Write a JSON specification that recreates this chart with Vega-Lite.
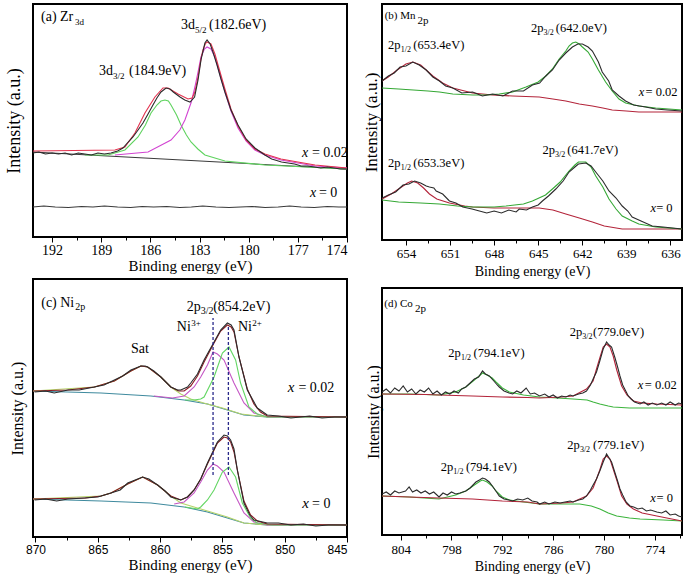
{
"$schema": "https://vega.github.io/schema/vega-lite/v6.json",
"background": "white",
"padding": {"left": 4, "top": 3, "right": 0, "bottom": 0},
"config": {
  "view": {"stroke": "#000", "strokeWidth": 2},
  "font": "Liberation Serif",
  "axis": {"grid": false, "domain": false, "labelFont": "Liberation Serif", "titleFont": "Liberation Serif", "titleFontWeight": "normal", "labelColor": "#000", "titleColor": "#000", "tickColor": "#000", "tickWidth": 1}
},
"resolve": {"scale": {"color": "independent"}},
"datasets": {
"a": [
{"s":"bg","x":193.16,"y":85},{"s":"bg","x":174,"y":68},
{"s":"raw0","x":193.16,"y":30},{"s":"raw0","x":192.5,"y":31},{"s":"raw0","x":191.8,"y":30},{"s":"raw0","x":191,"y":29.5},{"s":"raw0","x":190.2,"y":30.5},{"s":"raw0","x":189.5,"y":30},{"s":"raw0","x":188.8,"y":31},{"s":"raw0","x":188,"y":30},{"s":"raw0","x":187.2,"y":29.5},{"s":"raw0","x":186.5,"y":30.5},{"s":"raw0","x":185.8,"y":30},{"s":"raw0","x":185,"y":30.5},{"s":"raw0","x":184.2,"y":29.5},{"s":"raw0","x":183.5,"y":30},{"s":"raw0","x":182.8,"y":31},{"s":"raw0","x":182,"y":30},{"s":"raw0","x":181.2,"y":29.5},{"s":"raw0","x":180.5,"y":30},{"s":"raw0","x":179.8,"y":30.5},{"s":"raw0","x":179,"y":29.5},{"s":"raw0","x":178.2,"y":30},{"s":"raw0","x":177.5,"y":31},{"s":"raw0","x":176.8,"y":30},{"s":"raw0","x":176,"y":29.5},{"s":"raw0","x":175.2,"y":30.5},{"s":"raw0","x":174.5,"y":30},{"s":"raw0","x":174,"y":30},
{"s":"c1","x":190.0,"y":82},{"s":"c1","x":188.58,"y":82},{"s":"c1","x":187.55,"y":87},{"s":"c1","x":186.75,"y":100},{"s":"c1","x":186.3,"y":112},{"s":"c1","x":185.96,"y":124},{"s":"c1","x":185.6,"y":132},{"s":"c1","x":185.35,"y":136},{"s":"c1","x":185.11,"y":137},{"s":"c1","x":184.9,"y":136},{"s":"c1","x":184.74,"y":132},{"s":"c1","x":184.4,"y":122},{"s":"c1","x":184.13,"y":112},{"s":"c1","x":183.8,"y":102},{"s":"c1","x":183.52,"y":95},{"s":"c1","x":183.1,"y":88},{"s":"c1","x":182.67,"y":82},{"s":"c1","x":181.45,"y":76},{"s":"c1","x":179.01,"y":72},{"s":"c1","x":174,"y":68},
{"s":"c2","x":188.16,"y":82},{"s":"c2","x":186.14,"y":85},{"s":"c2","x":184.74,"y":97},{"s":"c2","x":184.2,"y":107},{"s":"c2","x":183.89,"y":117},{"s":"c2","x":183.5,"y":135},{"s":"c2","x":183.28,"y":150},{"s":"c2","x":183.09,"y":165},{"s":"c2","x":182.91,"y":180},{"s":"c2","x":182.7,"y":188},{"s":"c2","x":182.54,"y":190},{"s":"c2","x":182.3,"y":188},{"s":"c2","x":182.06,"y":180},{"s":"c2","x":181.8,"y":165},{"s":"c2","x":181.45,"y":145},{"s":"c2","x":181.08,"y":126},{"s":"c2","x":180.65,"y":109},{"s":"c2","x":180.16,"y":96},{"s":"c2","x":179.62,"y":87},{"s":"c2","x":179.01,"y":82},{"s":"c2","x":178.03,"y":77},{"s":"c2","x":177,"y":74},{"s":"c2","x":175.95,"y":71},{"s":"c2","x":174,"y":69},
{"s":"fit","x":193.16,"y":86},{"s":"fit","x":188.16,"y":87},{"s":"fit","x":187.55,"y":90},{"s":"fit","x":186.94,"y":104},{"s":"fit","x":186.33,"y":124},{"s":"fit","x":185.72,"y":140},{"s":"fit","x":185.23,"y":149},{"s":"fit","x":184.92,"y":149},{"s":"fit","x":184.31,"y":143},{"s":"fit","x":183.7,"y":138},{"s":"fit","x":183.45,"y":139},{"s":"fit","x":183.28,"y":145},{"s":"fit","x":183.09,"y":160},{"s":"fit","x":182.91,"y":178},{"s":"fit","x":182.79,"y":187},{"s":"fit","x":182.65,"y":193},{"s":"fit","x":182.54,"y":195},{"s":"fit","x":182.3,"y":193},{"s":"fit","x":182.06,"y":183},{"s":"fit","x":181.8,"y":168},{"s":"fit","x":181.45,"y":148},{"s":"fit","x":181.08,"y":128},{"s":"fit","x":180.65,"y":111},{"s":"fit","x":180.16,"y":97},{"s":"fit","x":179.62,"y":88},{"s":"fit","x":179.01,"y":83},{"s":"fit","x":178.03,"y":78},{"s":"fit","x":177,"y":75},{"s":"fit","x":175.95,"y":72},{"s":"fit","x":174,"y":69},
{"s":"raw","x":193.16,"y":84},{"s":"raw","x":192.8,"y":85},{"s":"raw","x":192.4,"y":83},{"s":"raw","x":192.0,"y":84},{"s":"raw","x":191.6,"y":83},{"s":"raw","x":191.2,"y":84},{"s":"raw","x":190.8,"y":82},{"s":"raw","x":190.4,"y":84},{"s":"raw","x":190.0,"y":83},{"s":"raw","x":189.6,"y":82},{"s":"raw","x":189.2,"y":84},{"s":"raw","x":188.8,"y":83},{"s":"raw","x":188.4,"y":84},{"s":"raw","x":188.0,"y":86},{"s":"raw","x":187.67,"y":89},{"s":"raw","x":187.35,"y":95},{"s":"raw","x":187.06,"y":100},{"s":"raw","x":186.75,"y":107},{"s":"raw","x":186.45,"y":114},{"s":"raw","x":186.14,"y":123},{"s":"raw","x":185.84,"y":132},{"s":"raw","x":185.6,"y":139},{"s":"raw","x":185.35,"y":145},{"s":"raw","x":185.04,"y":149},{"s":"raw","x":184.8,"y":148},{"s":"raw","x":184.6,"y":145},{"s":"raw","x":184.19,"y":140},{"s":"raw","x":183.9,"y":137},{"s":"raw","x":183.58,"y":135},{"s":"raw","x":183.3,"y":140},{"s":"raw","x":183.09,"y":157},{"s":"raw","x":182.9,"y":178},{"s":"raw","x":182.67,"y":194},{"s":"raw","x":182.54,"y":197},{"s":"raw","x":182.35,"y":193},{"s":"raw","x":182.18,"y":185},{"s":"raw","x":181.93,"y":172},{"s":"raw","x":181.69,"y":158},{"s":"raw","x":181.45,"y":145},{"s":"raw","x":181.08,"y":127},{"s":"raw","x":180.65,"y":112},{"s":"raw","x":180.16,"y":98},{"s":"raw","x":179.62,"y":89},{"s":"raw","x":179.01,"y":82},{"s":"raw","x":178.6,"y":78},{"s":"raw","x":178.39,"y":77},{"s":"raw","x":178.0,"y":75},{"s":"raw","x":177.6,"y":74},{"s":"raw","x":177.2,"y":73},{"s":"raw","x":176.8,"y":71},{"s":"raw","x":176.4,"y":71},{"s":"raw","x":176.0,"y":70},{"s":"raw","x":175.6,"y":69},{"s":"raw","x":175.2,"y":70},{"s":"raw","x":174.8,"y":69},{"s":"raw","x":174.4,"y":68},{"s":"raw","x":174,"y":68}
],
"aT": [
{"x":192.67,"y":216,"t":"(a) Zr","r":"m"},{"x":190.6,"y":216,"t":"3d","r":"s"},
{"x":184.13,"y":208,"t":"3d","r":"m"},{"x":183.28,"y":208,"t":"5/2","r":"s"},{"x":182.42,"y":208,"t":"(182.6eV)","r":"m"},
{"x":189.13,"y":162,"t":"3d","r":"m"},{"x":188.28,"y":162,"t":"3/2","r":"s"},{"x":187.3,"y":162,"t":"(184.9eV)","r":"m"},
{"x":176.75,"y":80,"t":"x","r":"i"},{"x":176.14,"y":80,"t":"= 0.02","r":"m"},
{"x":176.26,"y":40,"t":"x","r":"i"},{"x":175.71,"y":40,"t":"= 0","r":"m"}
],
"b": [
{"g":"u","s":"red","x":655.63,"y":159},{"g":"u","s":"red","x":655.2,"y":163},{"g":"u","s":"red","x":654.6,"y":170},{"g":"u","s":"red","x":654.0,"y":176},{"g":"u","s":"red","x":653.53,"y":178},{"g":"u","s":"red","x":653.0,"y":175},{"g":"u","s":"red","x":652.17,"y":164},{"g":"u","s":"red","x":651.5,"y":157},{"g":"u","s":"red","x":650.81,"y":152},{"g":"u","s":"red","x":650.0,"y":149},{"g":"u","s":"red","x":649.46,"y":147},{"g":"u","s":"red","x":648.1,"y":145},{"g":"u","s":"red","x":646.74,"y":144},{"g":"u","s":"red","x":644.93,"y":143},{"g":"u","s":"red","x":644.0,"y":141},{"g":"u","s":"red","x":643.12,"y":139},{"g":"u","s":"red","x":642.2,"y":136},{"g":"u","s":"red","x":641.31,"y":134},{"g":"u","s":"red","x":640.6,"y":132},{"g":"u","s":"red","x":639.96,"y":130},{"g":"u","s":"red","x":639.0,"y":129},{"g":"u","s":"red","x":638.15,"y":128},{"g":"u","s":"red","x":635.21,"y":128},
{"g":"u","s":"green","x":655.63,"y":152},{"g":"u","s":"green","x":654.5,"y":151},{"g":"u","s":"green","x":653.5,"y":150},{"g":"u","s":"green","x":652.5,"y":149},{"g":"u","s":"green","x":651.72,"y":148},{"g":"u","s":"green","x":650.81,"y":146},{"g":"u","s":"green","x":649.46,"y":145},{"g":"u","s":"green","x":648.5,"y":145},{"g":"u","s":"green","x":647.65,"y":146},{"g":"u","s":"green","x":646.74,"y":148},{"g":"u","s":"green","x":645.83,"y":153},{"g":"u","s":"green","x":645.0,"y":158},{"g":"u","s":"green","x":644.48,"y":164},{"g":"u","s":"green","x":644.03,"y":171},{"g":"u","s":"green","x":643.57,"y":181},{"g":"u","s":"green","x":643.12,"y":189},{"g":"u","s":"green","x":642.9,"y":194},{"g":"u","s":"green","x":642.67,"y":197},{"g":"u","s":"green","x":642.44,"y":198},{"g":"u","s":"green","x":642.2,"y":196},{"g":"u","s":"green","x":641.99,"y":193},{"g":"u","s":"green","x":641.6,"y":188},{"g":"u","s":"green","x":641.31,"y":181},{"g":"u","s":"green","x":640.9,"y":170},{"g":"u","s":"green","x":640.41,"y":158},{"g":"u","s":"green","x":639.96,"y":149},{"g":"u","s":"green","x":639.5,"y":141},{"g":"u","s":"green","x":639.05,"y":137},{"g":"u","s":"green","x":638.15,"y":134},{"g":"u","s":"green","x":637.0,"y":132},{"g":"u","s":"green","x":635.21,"y":130},
{"g":"u","s":"raw","x":655.63,"y":159},{"g":"u","s":"raw","x":655.2,"y":164},{"g":"u","s":"raw","x":654.8,"y":167},{"g":"u","s":"raw","x":654.4,"y":173},{"g":"u","s":"raw","x":654.0,"y":174},{"g":"u","s":"raw","x":653.53,"y":178},{"g":"u","s":"raw","x":653.1,"y":175},{"g":"u","s":"raw","x":652.62,"y":170},{"g":"u","s":"raw","x":652.17,"y":163},{"g":"u","s":"raw","x":651.72,"y":159},{"g":"u","s":"raw","x":651.3,"y":154},{"g":"u","s":"raw","x":650.81,"y":152},{"g":"u","s":"raw","x":650.2,"y":147},{"g":"u","s":"raw","x":649.46,"y":148},{"g":"u","s":"raw","x":648.8,"y":144},{"g":"u","s":"raw","x":648.1,"y":146},{"g":"u","s":"raw","x":647.4,"y":144},{"g":"u","s":"raw","x":646.74,"y":149},{"g":"u","s":"raw","x":646.0,"y":149},{"g":"u","s":"raw","x":645.39,"y":155},{"g":"u","s":"raw","x":644.9,"y":157},{"g":"u","s":"raw","x":644.48,"y":164},{"g":"u","s":"raw","x":644.03,"y":170},{"g":"u","s":"raw","x":643.57,"y":180},{"g":"u","s":"raw","x":643.12,"y":187},{"g":"u","s":"raw","x":642.67,"y":193},{"g":"u","s":"raw","x":642.3,"y":196},{"g":"u","s":"raw","x":641.99,"y":196},{"g":"u","s":"raw","x":641.6,"y":193},{"g":"u","s":"raw","x":641.31,"y":189},{"g":"u","s":"raw","x":640.9,"y":178},{"g":"u","s":"raw","x":640.64,"y":168},{"g":"u","s":"raw","x":640.2,"y":159},{"g":"u","s":"raw","x":639.96,"y":150},{"g":"u","s":"raw","x":639.5,"y":144},{"g":"u","s":"raw","x":639.05,"y":139},{"g":"u","s":"raw","x":638.5,"y":135},{"g":"u","s":"raw","x":637.69,"y":133},{"g":"u","s":"raw","x":637.0,"y":131},{"g":"u","s":"raw","x":636.2,"y":130},{"g":"u","s":"raw","x":635.21,"y":129},
{"g":"l","s":"red","x":655.63,"y":41},{"g":"l","s":"red","x":655.0,"y":46},{"g":"l","s":"red","x":654.4,"y":52},{"g":"l","s":"red","x":653.9,"y":57},{"g":"l","s":"red","x":653.61,"y":59},{"g":"l","s":"red","x":653.2,"y":57},{"g":"l","s":"red","x":652.8,"y":52},{"g":"l","s":"red","x":652.4,"y":46},{"g":"l","s":"red","x":651.9,"y":41},{"g":"l","s":"red","x":651.04,"y":37},{"g":"l","s":"red","x":650.0,"y":34},{"g":"l","s":"red","x":649.46,"y":33},{"g":"l","s":"red","x":648.0,"y":32},{"g":"l","s":"red","x":646.5,"y":32},{"g":"l","s":"red","x":644.93,"y":32},{"g":"l","s":"red","x":644.0,"y":30},{"g":"l","s":"red","x":643.12,"y":26},{"g":"l","s":"red","x":642.2,"y":22},{"g":"l","s":"red","x":641.31,"y":18},{"g":"l","s":"red","x":640.5,"y":14},{"g":"l","s":"red","x":639.28,"y":11},{"g":"l","s":"red","x":635.21,"y":11},
{"g":"l","s":"green","x":655.63,"y":40},{"g":"l","s":"green","x":654.5,"y":38},{"g":"l","s":"green","x":653.0,"y":37},{"g":"l","s":"green","x":651.72,"y":36},{"g":"l","s":"green","x":650.5,"y":34},{"g":"l","s":"green","x":649.46,"y":33},{"g":"l","s":"green","x":648.0,"y":33},{"g":"l","s":"green","x":647.19,"y":34},{"g":"l","s":"green","x":646.0,"y":36},{"g":"l","s":"green","x":645.39,"y":39},{"g":"l","s":"green","x":644.5,"y":45},{"g":"l","s":"green","x":644.03,"y":51},{"g":"l","s":"green","x":643.5,"y":58},{"g":"l","s":"green","x":642.9,"y":69},{"g":"l","s":"green","x":642.5,"y":75},{"g":"l","s":"green","x":642.26,"y":78},{"g":"l","s":"green","x":641.76,"y":78},{"g":"l","s":"green","x":641.4,"y":73},{"g":"l","s":"green","x":641.08,"y":64},{"g":"l","s":"green","x":640.6,"y":53},{"g":"l","s":"green","x":640.18,"y":41},{"g":"l","s":"green","x":639.7,"y":31},{"g":"l","s":"green","x":639.28,"y":24},{"g":"l","s":"green","x":638.6,"y":19},{"g":"l","s":"green","x":638.15,"y":16},{"g":"l","s":"green","x":637.0,"y":13},{"g":"l","s":"green","x":635.21,"y":11},
{"g":"l","s":"raw","x":655.63,"y":42},{"g":"l","s":"raw","x":655.2,"y":45},{"g":"l","s":"raw","x":654.7,"y":48},{"g":"l","s":"raw","x":654.2,"y":55},{"g":"l","s":"raw","x":653.8,"y":56},{"g":"l","s":"raw","x":653.41,"y":59},{"g":"l","s":"raw","x":653.0,"y":57},{"g":"l","s":"raw","x":652.62,"y":54},{"g":"l","s":"raw","x":652.4,"y":53},{"g":"l","s":"raw","x":652.1,"y":52},{"g":"l","s":"raw","x":651.94,"y":49},{"g":"l","s":"raw","x":651.5,"y":46},{"g":"l","s":"raw","x":651.04,"y":39},{"g":"l","s":"raw","x":650.6,"y":37},{"g":"l","s":"raw","x":650.13,"y":33},{"g":"l","s":"raw","x":649.5,"y":31},{"g":"l","s":"raw","x":649.0,"y":29},{"g":"l","s":"raw","x":648.5,"y":27},{"g":"l","s":"raw","x":648.0,"y":29},{"g":"l","s":"raw","x":647.5,"y":27},{"g":"l","s":"raw","x":647.0,"y":30},{"g":"l","s":"raw","x":646.5,"y":28},{"g":"l","s":"raw","x":646.29,"y":31},{"g":"l","s":"raw","x":645.8,"y":30},{"g":"l","s":"raw","x":645.39,"y":33},{"g":"l","s":"raw","x":645.0,"y":35},{"g":"l","s":"raw","x":644.71,"y":39},{"g":"l","s":"raw","x":644.3,"y":44},{"g":"l","s":"raw","x":643.8,"y":51},{"g":"l","s":"raw","x":643.3,"y":59},{"g":"l","s":"raw","x":642.9,"y":68},{"g":"l","s":"raw","x":642.5,"y":73},{"g":"l","s":"raw","x":642.26,"y":76},{"g":"l","s":"raw","x":641.76,"y":77},{"g":"l","s":"raw","x":641.4,"y":74},{"g":"l","s":"raw","x":641.08,"y":68},{"g":"l","s":"raw","x":640.6,"y":59},{"g":"l","s":"raw","x":640.18,"y":49},{"g":"l","s":"raw","x":639.7,"y":42},{"g":"l","s":"raw","x":639.28,"y":34},{"g":"l","s":"raw","x":638.9,"y":29},{"g":"l","s":"raw","x":638.6,"y":23},{"g":"l","s":"raw","x":638.0,"y":19},{"g":"l","s":"raw","x":637.24,"y":14},{"g":"l","s":"raw","x":636.5,"y":13},{"g":"l","s":"raw","x":635.21,"y":11}
],
"bT": [
{"x":655.45,"y":221,"t":"(b) Mn","r":"h"},{"x":653.22,"y":221,"t":"2p","r":"q"},
{"x":655.22,"y":191,"t":"2p","r":"m"},{"x":654.36,"y":191,"t":"1/2","r":"s"},{"x":653.5,"y":191,"t":"(653.4eV)","r":"m"},
{"x":645.49,"y":208,"t":"2p","r":"m"},{"x":644.63,"y":208,"t":"3/2","r":"s"},{"x":643.8,"y":208,"t":"(642.0eV)","r":"m"},
{"x":638.15,"y":144,"t":"x","r":"i"},{"x":637.69,"y":144,"t":"= 0.02","r":"m"},
{"x":655.22,"y":73,"t":"2p","r":"m"},{"x":654.36,"y":73,"t":"1/2","r":"s"},{"x":653.5,"y":73,"t":"(653.3eV)","r":"m"},
{"x":644.71,"y":86,"t":"2p","r":"m"},{"x":643.85,"y":86,"t":"3/2","r":"s"},{"x":643.02,"y":86,"t":"(641.7eV)","r":"m"},
{"x":637.35,"y":28,"t":"x","r":"i"},{"x":636.97,"y":28,"t":"= 0","r":"m"}
],
"c": [
{"g":"u","s":"bg","x":870.2,"y":146},{"g":"u","s":"bg","x":864.74,"y":144},{"g":"u","s":"bg","x":860.74,"y":141},{"g":"u","s":"bg","x":858.07,"y":137},{"g":"u","s":"bg","x":856.2,"y":133},{"g":"u","s":"bg","x":854.6,"y":127},{"g":"u","s":"bg","x":853.27,"y":122},{"g":"u","s":"bg","x":851.4,"y":120},{"g":"u","s":"bg","x":845,"y":120},
{"g":"u","s":"sat","x":870.2,"y":146},{"g":"u","s":"sat","x":865.27,"y":150},{"g":"u","s":"sat","x":863.67,"y":156},{"g":"u","s":"sat","x":862.34,"y":166},{"g":"u","s":"sat","x":861.54,"y":171},{"g":"u","s":"sat","x":861.0,"y":170},{"g":"u","s":"sat","x":859.94,"y":160},{"g":"u","s":"sat","x":859.14,"y":150},{"g":"u","s":"sat","x":858.34,"y":143},{"g":"u","s":"sat","x":857.54,"y":138},{"g":"u","s":"sat","x":856.5,"y":134},{"g":"u","s":"sat","x":855.0,"y":129},{"g":"u","s":"sat","x":853.5,"y":123},{"g":"u","s":"sat","x":851.4,"y":120},{"g":"u","s":"sat","x":845,"y":120},
{"g":"u","s":"ni3","x":860.5,"y":141},{"g":"u","s":"ni3","x":859,"y":139},{"g":"u","s":"ni3","x":858.07,"y":141},{"g":"u","s":"ni3","x":857.27,"y":150},{"g":"u","s":"ni3","x":856.74,"y":160},{"g":"u","s":"ni3","x":856.2,"y":172},{"g":"u","s":"ni3","x":855.75,"y":185},{"g":"u","s":"ni3","x":855.4,"y":183},{"g":"u","s":"ni3","x":854.87,"y":177},{"g":"u","s":"ni3","x":854.07,"y":154},{"g":"u","s":"ni3","x":853.27,"y":134},{"g":"u","s":"ni3","x":852.47,"y":124},{"g":"u","s":"ni3","x":851.4,"y":120},{"g":"u","s":"ni3","x":845,"y":120},
{"g":"u","s":"ni2","x":858,"y":137},{"g":"u","s":"ni2","x":857.27,"y":137},{"g":"u","s":"ni2","x":856.74,"y":138},{"g":"u","s":"ni2","x":856.47,"y":140},{"g":"u","s":"ni2","x":855.67,"y":160},{"g":"u","s":"ni2","x":855.0,"y":184},{"g":"u","s":"ni2","x":854.47,"y":190},{"g":"u","s":"ni2","x":853.94,"y":177},{"g":"u","s":"ni2","x":853.54,"y":154},{"g":"u","s":"ni2","x":852.87,"y":130},{"g":"u","s":"ni2","x":852.2,"y":123},{"g":"u","s":"ni2","x":851.4,"y":120},{"g":"u","s":"ni2","x":845,"y":120},
{"g":"u","s":"fit","x":870.2,"y":146},{"g":"u","s":"fit","x":867.4,"y":147},{"g":"u","s":"fit","x":865.27,"y":150},{"g":"u","s":"fit","x":863.67,"y":156},{"g":"u","s":"fit","x":862.34,"y":166},{"g":"u","s":"fit","x":861.54,"y":171},{"g":"u","s":"fit","x":861.0,"y":170},{"g":"u","s":"fit","x":859.94,"y":160},{"g":"u","s":"fit","x":859.14,"y":150},{"g":"u","s":"fit","x":858.5,"y":146},{"g":"u","s":"fit","x":858.07,"y":146},{"g":"u","s":"fit","x":857.54,"y":151},{"g":"u","s":"fit","x":857.0,"y":161},{"g":"u","s":"fit","x":856.47,"y":175},{"g":"u","s":"fit","x":855.67,"y":194},{"g":"u","s":"fit","x":855.14,"y":206},{"g":"u","s":"fit","x":854.6,"y":212},{"g":"u","s":"fit","x":854.3,"y":210},{"g":"u","s":"fit","x":854.07,"y":205},{"g":"u","s":"fit","x":853.67,"y":180},{"g":"u","s":"fit","x":853.0,"y":148},{"g":"u","s":"fit","x":852.47,"y":133},{"g":"u","s":"fit","x":851.94,"y":125},{"g":"u","s":"fit","x":851.4,"y":121},{"g":"u","s":"fit","x":845,"y":120},
{"g":"u","s":"raw","x":870.07,"y":145},{"g":"u","s":"raw","x":869.2,"y":146},{"g":"u","s":"raw","x":868.5,"y":144},{"g":"u","s":"raw","x":867.4,"y":147},{"g":"u","s":"raw","x":866.5,"y":147},{"g":"u","s":"raw","x":865.27,"y":150},{"g":"u","s":"raw","x":864.5,"y":152},{"g":"u","s":"raw","x":863.67,"y":157},{"g":"u","s":"raw","x":863.0,"y":161},{"g":"u","s":"raw","x":862.34,"y":167},{"g":"u","s":"raw","x":861.54,"y":171},{"g":"u","s":"raw","x":861.2,"y":171},{"g":"u","s":"raw","x":861.0,"y":170},{"g":"u","s":"raw","x":860.5,"y":166},{"g":"u","s":"raw","x":859.94,"y":160},{"g":"u","s":"raw","x":859.14,"y":150},{"g":"u","s":"raw","x":858.6,"y":147},{"g":"u","s":"raw","x":858.34,"y":147},{"g":"u","s":"raw","x":857.8,"y":150},{"g":"u","s":"raw","x":857.54,"y":154},{"g":"u","s":"raw","x":857.0,"y":163},{"g":"u","s":"raw","x":856.47,"y":177},{"g":"u","s":"raw","x":855.67,"y":195},{"g":"u","s":"raw","x":855.14,"y":207},{"g":"u","s":"raw","x":854.6,"y":214},{"g":"u","s":"raw","x":854.3,"y":212},{"g":"u","s":"raw","x":854.07,"y":207},{"g":"u","s":"raw","x":853.67,"y":180},{"g":"u","s":"raw","x":853.0,"y":147},{"g":"u","s":"raw","x":852.2,"y":129},{"g":"u","s":"raw","x":851.4,"y":122},{"g":"u","s":"raw","x":850.5,"y":121},{"g":"u","s":"raw","x":849.5,"y":119},{"g":"u","s":"raw","x":848.74,"y":120},{"g":"u","s":"raw","x":848,"y":121},{"g":"u","s":"raw","x":847,"y":119},{"g":"u","s":"raw","x":846,"y":120},{"g":"u","s":"raw","x":845,"y":120},
{"g":"l","s":"bg","x":870.2,"y":38},{"g":"l","s":"bg","x":864.74,"y":36},{"g":"l","s":"bg","x":860.74,"y":34},{"g":"l","s":"bg","x":858.07,"y":30},{"g":"l","s":"bg","x":856.2,"y":25},{"g":"l","s":"bg","x":854.6,"y":19},{"g":"l","s":"bg","x":853.27,"y":14},{"g":"l","s":"bg","x":851.4,"y":12},{"g":"l","s":"bg","x":845,"y":12},
{"g":"l","s":"sat","x":870.2,"y":38},{"g":"l","s":"sat","x":864.74,"y":41},{"g":"l","s":"sat","x":863.94,"y":44},{"g":"l","s":"sat","x":862.6,"y":53},{"g":"l","s":"sat","x":861.4,"y":60},{"g":"l","s":"sat","x":860.2,"y":52},{"g":"l","s":"sat","x":859.14,"y":41},{"g":"l","s":"sat","x":858.34,"y":34},{"g":"l","s":"sat","x":857.27,"y":30},{"g":"l","s":"sat","x":856.2,"y":26},{"g":"l","s":"sat","x":854.6,"y":20},{"g":"l","s":"sat","x":853.27,"y":14},{"g":"l","s":"sat","x":851.4,"y":12},{"g":"l","s":"sat","x":845,"y":12},
{"g":"l","s":"ni3","x":858.87,"y":33},{"g":"l","s":"ni3","x":858.07,"y":35},{"g":"l","s":"ni3","x":857.27,"y":44},{"g":"l","s":"ni3","x":856.74,"y":55},{"g":"l","s":"ni3","x":856.2,"y":67},{"g":"l","s":"ni3","x":855.75,"y":73},{"g":"l","s":"ni3","x":855.4,"y":71},{"g":"l","s":"ni3","x":854.87,"y":65},{"g":"l","s":"ni3","x":854.07,"y":44},{"g":"l","s":"ni3","x":853.27,"y":24},{"g":"l","s":"ni3","x":852.47,"y":15},{"g":"l","s":"ni3","x":851.4,"y":12},{"g":"l","s":"ni3","x":845,"y":12},
{"g":"l","s":"ni2","x":858,"y":30},{"g":"l","s":"ni2","x":857,"y":28},{"g":"l","s":"ni2","x":856.74,"y":30},{"g":"l","s":"ni2","x":856.2,"y":37},{"g":"l","s":"ni2","x":855.67,"y":47},{"g":"l","s":"ni2","x":855.0,"y":65},{"g":"l","s":"ni2","x":854.47,"y":70},{"g":"l","s":"ni2","x":853.94,"y":60},{"g":"l","s":"ni2","x":853.4,"y":34},{"g":"l","s":"ni2","x":852.74,"y":19},{"g":"l","s":"ni2","x":852.2,"y":14},{"g":"l","s":"ni2","x":851,"y":12},{"g":"l","s":"ni2","x":845,"y":12},
{"g":"l","s":"fit","x":870.2,"y":38},{"g":"l","s":"fit","x":866,"y":39},{"g":"l","s":"fit","x":864.74,"y":41},{"g":"l","s":"fit","x":863.94,"y":44},{"g":"l","s":"fit","x":862.6,"y":53},{"g":"l","s":"fit","x":861.4,"y":60},{"g":"l","s":"fit","x":860.2,"y":52},{"g":"l","s":"fit","x":859.14,"y":41},{"g":"l","s":"fit","x":858.34,"y":37},{"g":"l","s":"fit","x":857.8,"y":40},{"g":"l","s":"fit","x":857.27,"y":47},{"g":"l","s":"fit","x":856.74,"y":58},{"g":"l","s":"fit","x":856.2,"y":73},{"g":"l","s":"fit","x":855.4,"y":94},{"g":"l","s":"fit","x":854.87,"y":100},{"g":"l","s":"fit","x":854.6,"y":99},{"g":"l","s":"fit","x":854.34,"y":95},{"g":"l","s":"fit","x":854.07,"y":85},{"g":"l","s":"fit","x":853.8,"y":67},{"g":"l","s":"fit","x":853.27,"y":36},{"g":"l","s":"fit","x":852.74,"y":22},{"g":"l","s":"fit","x":852.2,"y":16},{"g":"l","s":"fit","x":851.4,"y":13},{"g":"l","s":"fit","x":845,"y":12},
{"g":"l","s":"raw","x":870.07,"y":37},{"g":"l","s":"raw","x":869.2,"y":38},{"g":"l","s":"raw","x":868.3,"y":36},{"g":"l","s":"raw","x":867.4,"y":38},{"g":"l","s":"raw","x":866.07,"y":39},{"g":"l","s":"raw","x":865,"y":40},{"g":"l","s":"raw","x":863.94,"y":44},{"g":"l","s":"raw","x":863.2,"y":47},{"g":"l","s":"raw","x":862.6,"y":54},{"g":"l","s":"raw","x":862,"y":57},{"g":"l","s":"raw","x":861.4,"y":60},{"g":"l","s":"raw","x":860.9,"y":58},{"g":"l","s":"raw","x":860.2,"y":52},{"g":"l","s":"raw","x":859.6,"y":46},{"g":"l","s":"raw","x":859.14,"y":40},{"g":"l","s":"raw","x":858.34,"y":37},{"g":"l","s":"raw","x":857.8,"y":40},{"g":"l","s":"raw","x":857.27,"y":47},{"g":"l","s":"raw","x":856.74,"y":58},{"g":"l","s":"raw","x":856.2,"y":74},{"g":"l","s":"raw","x":855.4,"y":95},{"g":"l","s":"raw","x":854.87,"y":102},{"g":"l","s":"raw","x":854.6,"y":101},{"g":"l","s":"raw","x":854.34,"y":97},{"g":"l","s":"raw","x":854.07,"y":88},{"g":"l","s":"raw","x":853.8,"y":67},{"g":"l","s":"raw","x":853.27,"y":34},{"g":"l","s":"raw","x":852.8,"y":22},{"g":"l","s":"raw","x":852.47,"y":17},{"g":"l","s":"raw","x":851.4,"y":14},{"g":"l","s":"raw","x":850.5,"y":14},{"g":"l","s":"raw","x":849.5,"y":12},{"g":"l","s":"raw","x":848.5,"y":13},{"g":"l","s":"raw","x":847.5,"y":11},{"g":"l","s":"raw","x":846.5,"y":12},{"g":"l","s":"raw","x":845,"y":12}
],
"cR": [{"x":855.75,"y":62,"y2":219},{"x":854.52,"y":62,"y2":212}],
"cT": [
{"x":869.54,"y":230,"t":"(c) Ni","r":"m"},{"x":866.8,"y":230,"t":"2p","r":"s"},
{"x":857.86,"y":226,"t":"2p","r":"m"},{"x":856.74,"y":226,"t":"3/2","r":"s"},{"x":855.74,"y":226,"t":"(854.2eV)","r":"m"},
{"x":858.66,"y":206,"t":"Ni","r":"m"},{"x":857.5,"y":206,"t":"3+","r":"p"},
{"x":853.75,"y":206,"t":"Ni","r":"m"},{"x":852.6,"y":206,"t":"2+","r":"p"},
{"x":862.34,"y":184,"t":"Sat","r":"m"},
{"x":849.75,"y":145,"t":"x","r":"i"},{"x":848.9,"y":145,"t":"= 0.02","r":"m"},
{"x":848.6,"y":29,"t":"x","r":"i"},{"x":847.8,"y":29,"t":"= 0","r":"m"}
],
"d": [
{"g":"u","s":"green","x":806.2,"y":141},{"g":"u","s":"green","x":803,"y":141},{"g":"u","s":"green","x":799.47,"y":140},{"g":"u","s":"green","x":797.5,"y":143},{"g":"u","s":"green","x":796.31,"y":148},{"g":"u","s":"green","x":795.3,"y":155},{"g":"u","s":"green","x":794.6,"y":160},{"g":"u","s":"green","x":794.34,"y":162},{"g":"u","s":"green","x":793.8,"y":160},{"g":"u","s":"green","x":793.2,"y":157},{"g":"u","s":"green","x":792.75,"y":153},{"g":"u","s":"green","x":792.0,"y":147},{"g":"u","s":"green","x":791.17,"y":143},{"g":"u","s":"green","x":789.5,"y":140},{"g":"u","s":"green","x":787.61,"y":138},{"g":"u","s":"green","x":785.5,"y":137},{"g":"u","s":"green","x":783.66,"y":136},{"g":"u","s":"green","x":782.0,"y":135},{"g":"u","s":"green","x":781.29,"y":133},{"g":"u","s":"green","x":780.5,"y":131},{"g":"u","s":"green","x":779.5,"y":129},{"g":"u","s":"green","x":778.92,"y":128},{"g":"u","s":"green","x":777,"y":127},{"g":"u","s":"green","x":770.8,"y":127},
{"g":"u","s":"red","x":806.2,"y":141},{"g":"u","s":"red","x":801,"y":140.5},{"g":"u","s":"red","x":799.47,"y":140},{"g":"u","s":"red","x":795.52,"y":139},{"g":"u","s":"red","x":792,"y":138},{"g":"u","s":"red","x":789,"y":137.5},{"g":"u","s":"red","x":787.61,"y":137},{"g":"u","s":"red","x":785,"y":138},{"g":"u","s":"red","x":783.66,"y":139},{"g":"u","s":"red","x":782.07,"y":146},{"g":"u","s":"red","x":781.29,"y":154},{"g":"u","s":"red","x":780.89,"y":166},{"g":"u","s":"red","x":780.5,"y":177},{"g":"u","s":"red","x":780.1,"y":188},{"g":"u","s":"red","x":779.7,"y":191},{"g":"u","s":"red","x":779.3,"y":188},{"g":"u","s":"red","x":778.92,"y":179},{"g":"u","s":"red","x":778.5,"y":165},{"g":"u","s":"red","x":777.92,"y":149},{"g":"u","s":"red","x":777.3,"y":140},{"g":"u","s":"red","x":776.54,"y":134},{"g":"u","s":"red","x":775.5,"y":132},{"g":"u","s":"red","x":773.77,"y":131},{"g":"u","s":"red","x":770.8,"y":130},
{"g":"u","s":"raw","x":806.2,"y":143},{"g":"u","s":"raw","x":805.7,"y":146},{"g":"u","s":"raw","x":805.2,"y":142},{"g":"u","s":"raw","x":804.7,"y":147},{"g":"u","s":"raw","x":804.2,"y":144},{"g":"u","s":"raw","x":803.7,"y":149},{"g":"u","s":"raw","x":803.2,"y":143},{"g":"u","s":"raw","x":802.7,"y":146},{"g":"u","s":"raw","x":802.2,"y":141},{"g":"u","s":"raw","x":801.7,"y":145},{"g":"u","s":"raw","x":801.2,"y":143},{"g":"u","s":"raw","x":800.7,"y":147},{"g":"u","s":"raw","x":800.2,"y":141},{"g":"u","s":"raw","x":799.7,"y":144},{"g":"u","s":"raw","x":799.2,"y":140},{"g":"u","s":"raw","x":798.7,"y":143},{"g":"u","s":"raw","x":798.2,"y":141},{"g":"u","s":"raw","x":797.7,"y":144},{"g":"u","s":"raw","x":797.2,"y":142},{"g":"u","s":"raw","x":796.8,"y":146},{"g":"u","s":"raw","x":796.31,"y":148},{"g":"u","s":"raw","x":795.8,"y":152},{"g":"u","s":"raw","x":795.3,"y":156},{"g":"u","s":"raw","x":794.8,"y":158},{"g":"u","s":"raw","x":794.34,"y":164},{"g":"u","s":"raw","x":794.0,"y":161},{"g":"u","s":"raw","x":793.54,"y":159},{"g":"u","s":"raw","x":793.0,"y":154},{"g":"u","s":"raw","x":792.6,"y":150},{"g":"u","s":"raw","x":792.36,"y":148},{"g":"u","s":"raw","x":791.8,"y":144},{"g":"u","s":"raw","x":791.2,"y":142},{"g":"u","s":"raw","x":790.78,"y":141},{"g":"u","s":"raw","x":790.3,"y":144},{"g":"u","s":"raw","x":789.8,"y":142},{"g":"u","s":"raw","x":789.19,"y":147},{"g":"u","s":"raw","x":788.7,"y":141},{"g":"u","s":"raw","x":788.2,"y":142},{"g":"u","s":"raw","x":787.61,"y":139},{"g":"u","s":"raw","x":787.0,"y":141},{"g":"u","s":"raw","x":786.5,"y":138},{"g":"u","s":"raw","x":786.0,"y":140},{"g":"u","s":"raw","x":785.5,"y":137},{"g":"u","s":"raw","x":785.0,"y":139},{"g":"u","s":"raw","x":784.5,"y":138},{"g":"u","s":"raw","x":784.0,"y":140},{"g":"u","s":"raw","x":783.66,"y":139},{"g":"u","s":"raw","x":783.0,"y":141},{"g":"u","s":"raw","x":782.5,"y":142},{"g":"u","s":"raw","x":782.07,"y":144},{"g":"u","s":"raw","x":781.6,"y":150},{"g":"u","s":"raw","x":781.29,"y":156},{"g":"u","s":"raw","x":780.89,"y":163},{"g":"u","s":"raw","x":780.5,"y":174},{"g":"u","s":"raw","x":780.1,"y":186},{"g":"u","s":"raw","x":779.7,"y":193},{"g":"u","s":"raw","x":779.4,"y":190},{"g":"u","s":"raw","x":779.11,"y":188},{"g":"u","s":"raw","x":778.7,"y":177},{"g":"u","s":"raw","x":778.4,"y":168},{"g":"u","s":"raw","x":778.12,"y":159},{"g":"u","s":"raw","x":777.8,"y":150},{"g":"u","s":"raw","x":777.5,"y":145},{"g":"u","s":"raw","x":777.14,"y":139},{"g":"u","s":"raw","x":776.8,"y":136},{"g":"u","s":"raw","x":776.4,"y":133},{"g":"u","s":"raw","x":775.75,"y":131},{"g":"u","s":"raw","x":775.3,"y":133},{"g":"u","s":"raw","x":774.8,"y":130},{"g":"u","s":"raw","x":774.3,"y":132},{"g":"u","s":"raw","x":773.77,"y":130},{"g":"u","s":"raw","x":773.2,"y":132},{"g":"u","s":"raw","x":772.7,"y":130},{"g":"u","s":"raw","x":772.2,"y":133},{"g":"u","s":"raw","x":771.6,"y":130},{"g":"u","s":"raw","x":771.2,"y":132},{"g":"u","s":"raw","x":770.8,"y":131},
{"g":"l","s":"green","x":806.2,"y":39},{"g":"l","s":"green","x":803,"y":38},{"g":"l","s":"green","x":799.47,"y":36},{"g":"l","s":"green","x":797.5,"y":40},{"g":"l","s":"green","x":796.31,"y":44},{"g":"l","s":"green","x":795.3,"y":50},{"g":"l","s":"green","x":794.6,"y":54},{"g":"l","s":"green","x":794.34,"y":55},{"g":"l","s":"green","x":793.8,"y":53},{"g":"l","s":"green","x":793.2,"y":49},{"g":"l","s":"green","x":792.75,"y":44},{"g":"l","s":"green","x":792.0,"y":38},{"g":"l","s":"green","x":791.17,"y":35},{"g":"l","s":"green","x":789.5,"y":33},{"g":"l","s":"green","x":787.61,"y":31},{"g":"l","s":"green","x":785,"y":31},{"g":"l","s":"green","x":782.87,"y":31},{"g":"l","s":"green","x":781.5,"y":29},{"g":"l","s":"green","x":780.49,"y":26},{"g":"l","s":"green","x":779.5,"y":22},{"g":"l","s":"green","x":778.51,"y":19},{"g":"l","s":"green","x":777,"y":17},{"g":"l","s":"green","x":775.75,"y":16},{"g":"l","s":"green","x":773,"y":15},{"g":"l","s":"green","x":770.8,"y":14},
{"g":"l","s":"red","x":806.2,"y":39},{"g":"l","s":"red","x":803,"y":38},{"g":"l","s":"red","x":799.47,"y":37},{"g":"l","s":"red","x":795.52,"y":36},{"g":"l","s":"red","x":792,"y":34},{"g":"l","s":"red","x":789,"y":33},{"g":"l","s":"red","x":787.61,"y":31},{"g":"l","s":"red","x":785,"y":32},{"g":"l","s":"red","x":783.66,"y":33},{"g":"l","s":"red","x":782.07,"y":39},{"g":"l","s":"red","x":781.29,"y":47},{"g":"l","s":"red","x":780.89,"y":56},{"g":"l","s":"red","x":780.5,"y":65},{"g":"l","s":"red","x":780.1,"y":76},{"g":"l","s":"red","x":779.7,"y":79},{"g":"l","s":"red","x":779.3,"y":76},{"g":"l","s":"red","x":778.92,"y":66},{"g":"l","s":"red","x":778.5,"y":55},{"g":"l","s":"red","x":777.92,"y":39},{"g":"l","s":"red","x":777.3,"y":31},{"g":"l","s":"red","x":776.54,"y":26},{"g":"l","s":"red","x":775.5,"y":22},{"g":"l","s":"red","x":773.77,"y":19},{"g":"l","s":"red","x":772,"y":16},{"g":"l","s":"red","x":770.8,"y":14},
{"g":"l","s":"raw","x":806.2,"y":41},{"g":"l","s":"raw","x":805.7,"y":43},{"g":"l","s":"raw","x":805.2,"y":40},{"g":"l","s":"raw","x":804.7,"y":44},{"g":"l","s":"raw","x":804.2,"y":42},{"g":"l","s":"raw","x":803.42,"y":44},{"g":"l","s":"raw","x":803.0,"y":48},{"g":"l","s":"raw","x":802.6,"y":43},{"g":"l","s":"raw","x":802.1,"y":45},{"g":"l","s":"raw","x":801.6,"y":42},{"g":"l","s":"raw","x":801.1,"y":44},{"g":"l","s":"raw","x":800.6,"y":41},{"g":"l","s":"raw","x":800.1,"y":43},{"g":"l","s":"raw","x":799.47,"y":38},{"g":"l","s":"raw","x":799.0,"y":42},{"g":"l","s":"raw","x":798.5,"y":40},{"g":"l","s":"raw","x":798.0,"y":43},{"g":"l","s":"raw","x":797.5,"y":41},{"g":"l","s":"raw","x":797.0,"y":42},{"g":"l","s":"raw","x":796.31,"y":44},{"g":"l","s":"raw","x":795.8,"y":47},{"g":"l","s":"raw","x":795.12,"y":53},{"g":"l","s":"raw","x":794.7,"y":55},{"g":"l","s":"raw","x":794.34,"y":57},{"g":"l","s":"raw","x":794.0,"y":56},{"g":"l","s":"raw","x":793.54,"y":53},{"g":"l","s":"raw","x":793.1,"y":48},{"g":"l","s":"raw","x":792.6,"y":42},{"g":"l","s":"raw","x":792.36,"y":39},{"g":"l","s":"raw","x":791.8,"y":36},{"g":"l","s":"raw","x":791.2,"y":35},{"g":"l","s":"raw","x":790.78,"y":34},{"g":"l","s":"raw","x":790.2,"y":36},{"g":"l","s":"raw","x":789.59,"y":35},{"g":"l","s":"raw","x":789.0,"y":37},{"g":"l","s":"raw","x":788.5,"y":34},{"g":"l","s":"raw","x":787.9,"y":33},{"g":"l","s":"raw","x":787.61,"y":31},{"g":"l","s":"raw","x":787.0,"y":33},{"g":"l","s":"raw","x":786.5,"y":31},{"g":"l","s":"raw","x":785.8,"y":33},{"g":"l","s":"raw","x":785.2,"y":32},{"g":"l","s":"raw","x":784.6,"y":33},{"g":"l","s":"raw","x":784.0,"y":34},{"g":"l","s":"raw","x":783.66,"y":33},{"g":"l","s":"raw","x":783.0,"y":35},{"g":"l","s":"raw","x":782.5,"y":36},{"g":"l","s":"raw","x":782.07,"y":39},{"g":"l","s":"raw","x":781.6,"y":45},{"g":"l","s":"raw","x":781.29,"y":50},{"g":"l","s":"raw","x":780.89,"y":56},{"g":"l","s":"raw","x":780.5,"y":64},{"g":"l","s":"raw","x":780.1,"y":73},{"g":"l","s":"raw","x":779.7,"y":81},{"g":"l","s":"raw","x":779.4,"y":77},{"g":"l","s":"raw","x":779.11,"y":73},{"g":"l","s":"raw","x":778.7,"y":62},{"g":"l","s":"raw","x":778.4,"y":54},{"g":"l","s":"raw","x":778.12,"y":46},{"g":"l","s":"raw","x":777.8,"y":40},{"g":"l","s":"raw","x":777.4,"y":33},{"g":"l","s":"raw","x":776.94,"y":29},{"g":"l","s":"raw","x":776.5,"y":28},{"g":"l","s":"raw","x":776.0,"y":26},{"g":"l","s":"raw","x":775.5,"y":27},{"g":"l","s":"raw","x":775.0,"y":24},{"g":"l","s":"raw","x":774.5,"y":25},{"g":"l","s":"raw","x":773.77,"y":23},{"g":"l","s":"raw","x":773.2,"y":22},{"g":"l","s":"raw","x":772.7,"y":24},{"g":"l","s":"raw","x":772.2,"y":20},{"g":"l","s":"raw","x":771.6,"y":21},{"g":"l","s":"raw","x":771.2,"y":19},{"g":"l","s":"raw","x":770.8,"y":18}
],
"dT": [
{"x":805.92,"y":228,"t":"(d) Co","r":"h"},{"x":802.3,"y":228,"t":"2p","r":"q"},
{"x":784.05,"y":199,"t":"2p","r":"m"},{"x":782.57,"y":199,"t":"3/2","r":"s"},{"x":781.3,"y":199,"t":"(779.0eV)","r":"m"},
{"x":798.37,"y":178,"t":"2p","r":"m"},{"x":796.89,"y":178,"t":"1/2","r":"s"},{"x":795.4,"y":178,"t":"(794.1eV)","r":"m"},
{"x":776.02,"y":146,"t":"x","r":"i"},{"x":775.2,"y":146,"t":"= 0.02","r":"m"},
{"x":784.33,"y":86,"t":"2p","r":"m"},{"x":782.85,"y":86,"t":"3/2","r":"s"},{"x":781.3,"y":86,"t":"(779.1eV)","r":"m"},
{"x":799.27,"y":64,"t":"2p","r":"m"},{"x":797.79,"y":64,"t":"1/2","r":"s"},{"x":796.3,"y":64,"t":"(794.1eV)","r":"m"},
{"x":774.56,"y":33,"t":"x","r":"i"},{"x":773.8,"y":33,"t":"= 0","r":"m"}
]
},
"hconcat": [
{"vconcat": [
{
"width": 314, "height": 233,
"encoding": {
  "x": {"field": "x", "type": "quantitative", "scale": {"domain": [174, 193.16], "reverse": true, "nice": false, "zero": false},
    "axis": {"title": "Binding energy (eV)", "values": [192,190.5,189,187.5,186,184.5,183,181.5,180,178.5,177,175.5,174], "labelExpr": "datum.value % 3 === 0 ? datum.label : ''", "tickSize": {"condition": {"test": "datum.value % 3 === 0", "value": 5}, "value": 3}, "labelFontSize": 14, "titleFontSize": 15, "labelPadding": 1, "titlePadding": 1}},
  "y": {"field": "y", "type": "quantitative", "scale": {"domain": [0, 233], "nice": false, "zero": false},
    "axis": {"title": "Intensity (a.u.)", "labels": false, "ticks": false, "domain": false, "titleFontSize": 18, "titlePadding": 10}}
},
"layer": [
  {"data": {"name": "a"}, "mark": {"type": "line", "strokeWidth": 1.1, "clip": true},
   "encoding": {"color": {"field": "s", "type": "nominal", "legend": null, "scale": {"domain": ["bg","raw0","c1","c2","fit","raw"], "range": ["#3a3a3a","#3a3a3a","#5fd35f","#d244d2","#e3324f","#2b2b2b"]}}}},
  {"data": {"name": "aT"}, "transform": [{"filter": "datum.r == 'm'"}], "mark": {"type": "text", "align": "left", "baseline": "alphabetic", "fontSize": 14, "font": "Liberation Serif"}, "encoding": {"text": {"field": "t"}}},
  {"data": {"name": "aT"}, "transform": [{"filter": "datum.r == 's'"}], "mark": {"type": "text", "align": "left", "baseline": "alphabetic", "fontSize": 9, "dy": 4, "font": "Liberation Serif"}, "encoding": {"text": {"field": "t"}}},
  {"data": {"name": "aT"}, "transform": [{"filter": "datum.r == 'i'"}], "mark": {"type": "text", "align": "left", "baseline": "alphabetic", "fontSize": 14, "fontStyle": "italic", "font": "Liberation Serif"}, "encoding": {"text": {"field": "t"}}}
]
},
{
"width": 314, "height": 258,
"encoding": {
  "x": {"field": "x", "type": "quantitative", "scale": {"domain": [845, 870.2], "reverse": true, "nice": false, "zero": false},
    "axis": {"title": "Binding energy (eV)", "values": [870,867.5,865,862.5,860,857.5,855,852.5,850,847.5,845], "labelExpr": "datum.value % 5 === 0 ? datum.label : ''", "tickSize": {"condition": {"test": "datum.value % 5 === 0", "value": 5}, "value": 3}, "labelFont": "Liberation Sans", "labelFontSize": 12, "titleFontSize": 15, "labelPadding": 2, "titlePadding": 2}},
  "y": {"field": "y", "type": "quantitative", "scale": {"domain": [0, 258], "nice": false, "zero": false},
    "axis": {"title": "Intensity (a.u.)", "labels": false, "ticks": false, "domain": false, "titleFontSize": 16, "titlePadding": 8}}
},
"layer": [
  {"data": {"name": "c"}, "mark": {"type": "line", "strokeWidth": 1.1, "clip": true},
   "encoding": {"color": {"field": "s", "type": "nominal", "legend": null, "scale": {"domain": ["bg","sat","ni3","ni2","fit","raw"], "range": ["#3f8a9e","#b5d36a","#c557c5","#63d663","#8a1c24","#2b2b2b"]}}, "detail": {"field": "g"}}},
  {"data": {"name": "cR"}, "mark": {"type": "rule", "color": "#2a2a8a", "strokeDash": [3, 2], "strokeWidth": 1.3}, "encoding": {"y2": {"field": "y2"}}},
  {"data": {"name": "cT"}, "transform": [{"filter": "datum.r == 'm'"}], "mark": {"type": "text", "align": "left", "baseline": "alphabetic", "fontSize": 14, "font": "Liberation Serif"}, "encoding": {"text": {"field": "t"}}},
  {"data": {"name": "cT"}, "transform": [{"filter": "datum.r == 's'"}], "mark": {"type": "text", "align": "left", "baseline": "alphabetic", "fontSize": 10, "dy": 3, "font": "Liberation Serif"}, "encoding": {"text": {"field": "t"}}},
  {"data": {"name": "cT"}, "transform": [{"filter": "datum.r == 'p'"}], "mark": {"type": "text", "align": "left", "baseline": "alphabetic", "fontSize": 9, "dy": -5, "font": "Liberation Serif"}, "encoding": {"text": {"field": "t"}}},
  {"data": {"name": "cT"}, "transform": [{"filter": "datum.r == 'i'"}], "mark": {"type": "text", "align": "left", "baseline": "alphabetic", "fontSize": 15, "fontStyle": "italic", "font": "Liberation Serif"}, "encoding": {"text": {"field": "t"}}}
]
}
], "spacing": 42, "bounds": "flush", "resolve": {"scale": {"color": "independent"}}},
{"vconcat": [
{
"width": 300, "height": 236,
"encoding": {
  "x": {"field": "x", "type": "quantitative", "scale": {"domain": [635.21, 655.63], "reverse": true, "nice": false, "zero": false},
    "axis": {"title": "Binding energy (eV)", "values": [654,652.5,651,649.5,648,646.5,645,643.5,642,640.5,639,637.5,636], "labelExpr": "datum.value % 3 === 0 ? datum.label : ''", "tickSize": {"condition": {"test": "datum.value % 3 === 0", "value": 5}, "value": 3}, "labelFontSize": 13, "titleFontSize": 14, "labelPadding": 2, "titlePadding": 4}},
  "y": {"field": "y", "type": "quantitative", "scale": {"domain": [0, 236], "nice": false, "zero": false},
    "axis": {"title": "Intensity (a.u.)", "labels": false, "ticks": false, "domain": false, "titleFontSize": 17, "titlePadding": 2}}
},
"layer": [
  {"data": {"name": "b"}, "mark": {"type": "line", "strokeWidth": 1.1, "clip": true},
   "encoding": {"color": {"field": "s", "type": "nominal", "legend": null, "scale": {"domain": ["red","green","raw"], "range": ["#b3243a","#35a835","#2b2b2b"]}}, "detail": {"field": "g"}}},
  {"data": {"name": "bT"}, "transform": [{"filter": "datum.r == 'm'"}], "mark": {"type": "text", "align": "left", "baseline": "alphabetic", "fontSize": 12.5, "font": "Liberation Serif"}, "encoding": {"text": {"field": "t"}}},
  {"data": {"name": "bT"}, "transform": [{"filter": "datum.r == 'h'"}], "mark": {"type": "text", "align": "left", "baseline": "alphabetic", "fontSize": 11, "font": "Liberation Serif"}, "encoding": {"text": {"field": "t"}}},
  {"data": {"name": "bT"}, "transform": [{"filter": "datum.r == 'q'"}], "mark": {"type": "text", "align": "left", "baseline": "alphabetic", "fontSize": 11, "dy": 5, "font": "Liberation Serif"}, "encoding": {"text": {"field": "t"}}},
  {"data": {"name": "bT"}, "transform": [{"filter": "datum.r == 's'"}], "mark": {"type": "text", "align": "left", "baseline": "alphabetic", "fontSize": 8, "dy": 3, "font": "Liberation Serif"}, "encoding": {"text": {"field": "t"}}},
  {"data": {"name": "bT"}, "transform": [{"filter": "datum.r == 'i'"}], "mark": {"type": "text", "align": "left", "baseline": "alphabetic", "fontSize": 12.5, "fontStyle": "italic", "font": "Liberation Serif"}, "encoding": {"text": {"field": "t"}}}
]
},
{
"width": 300, "height": 247,
"encoding": {
  "x": {"field": "x", "type": "quantitative", "scale": {"domain": [770.8, 806.2], "reverse": true, "nice": false, "zero": false},
    "axis": {"title": "Binding energy (eV)", "values": [804,801,798,795,792,789,786,783,780,777,774,771], "labelExpr": "datum.value % 6 === 0 ? datum.label : ''", "tickSize": {"condition": {"test": "datum.value % 6 === 0", "value": 5}, "value": 3}, "labelFontSize": 13, "titleFontSize": 14, "labelPadding": 3, "titlePadding": 3}},
  "y": {"field": "y", "type": "quantitative", "scale": {"domain": [0, 247], "nice": false, "zero": false},
    "axis": {"title": "Intensity (a.u.)", "labels": false, "ticks": false, "domain": false, "titleFontSize": 16, "titlePadding": 1}}
},
"layer": [
  {"data": {"name": "d"}, "mark": {"type": "line", "strokeWidth": 1.1, "clip": true},
   "encoding": {"color": {"field": "s", "type": "nominal", "legend": null, "scale": {"domain": ["green","red","raw"], "range": ["#3cb43c","#b3243a","#2b2b2b"]}}, "detail": {"field": "g"}}},
  {"data": {"name": "dT"}, "transform": [{"filter": "datum.r == 'm'"}], "mark": {"type": "text", "align": "left", "baseline": "alphabetic", "fontSize": 12.5, "font": "Liberation Serif"}, "encoding": {"text": {"field": "t"}}},
  {"data": {"name": "dT"}, "transform": [{"filter": "datum.r == 'h'"}], "mark": {"type": "text", "align": "left", "baseline": "alphabetic", "fontSize": 11, "font": "Liberation Serif"}, "encoding": {"text": {"field": "t"}}},
  {"data": {"name": "dT"}, "transform": [{"filter": "datum.r == 'q'"}], "mark": {"type": "text", "align": "left", "baseline": "alphabetic", "fontSize": 11, "dy": 5, "font": "Liberation Serif"}, "encoding": {"text": {"field": "t"}}},
  {"data": {"name": "dT"}, "transform": [{"filter": "datum.r == 's'"}], "mark": {"type": "text", "align": "left", "baseline": "alphabetic", "fontSize": 8, "dy": 3, "font": "Liberation Serif"}, "encoding": {"text": {"field": "t"}}},
  {"data": {"name": "dT"}, "transform": [{"filter": "datum.r == 'i'"}], "mark": {"type": "text", "align": "left", "baseline": "alphabetic", "fontSize": 12.5, "fontStyle": "italic", "font": "Liberation Serif"}, "encoding": {"text": {"field": "t"}}}
]
}
], "spacing": 48, "bounds": "flush", "resolve": {"scale": {"color": "independent"}}}
],
"spacing": 12
}
